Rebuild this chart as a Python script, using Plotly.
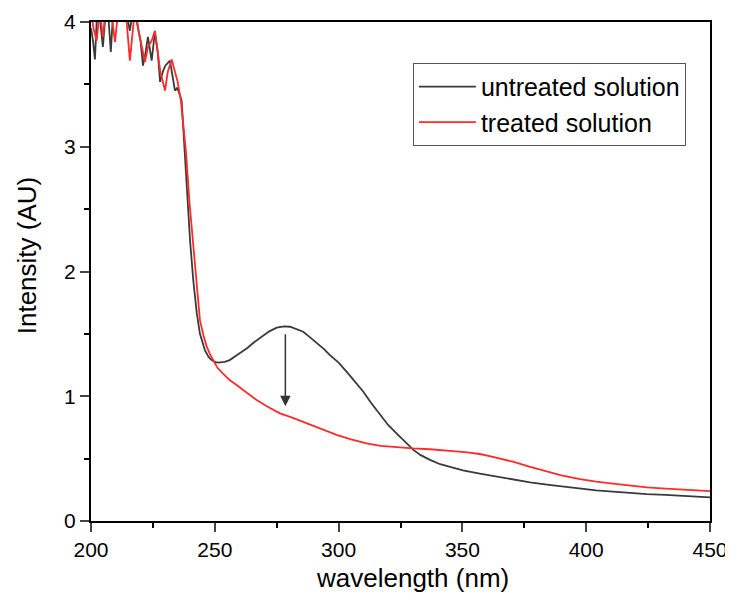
import plotly.graph_objects as go

# untreated solution (black)
untreated_x = [200, 200.8, 201.6, 202.5, 203.5, 204.8, 206, 207, 208, 209, 210, 212, 214, 215.7, 217,
               218, 219, 220, 221, 222, 223, 224.5, 225.8, 227, 227.9, 229, 230, 231.9, 233, 233.9,
               234.7, 235.5, 236.6, 237.8, 238.9, 240, 241.3, 242.7, 244, 246, 247.5, 248.7, 250,
               251.3, 254, 256, 259, 263, 266, 269.6, 272, 275, 278, 280.4, 283, 285.7, 288, 291.2,
               294, 296.5, 300, 303.3, 306, 310, 313, 316.7, 320, 323.5, 327, 330.2, 333, 336.9,
               341, 346, 350.2, 357, 364, 370, 377.3, 385, 392, 397.5, 404, 410.8, 417, 424.5, 432,
               440, 445, 450]
untreated_y = [3.95, 3.85, 3.70, 4.1, 4.05, 3.80, 4.1, 4.05, 3.76, 4.1, 4.1, 4.1, 4.1, 3.93, 4.1,
               4.1, 3.95, 3.85, 3.65, 3.75, 3.88, 3.69, 3.92, 3.75, 3.52, 3.6, 3.65, 3.69, 3.55, 3.45,
               3.47, 3.44, 3.37, 2.95, 2.57, 2.25, 1.93, 1.67, 1.50, 1.37, 1.315, 1.29, 1.275,
               1.27, 1.275, 1.29, 1.33, 1.385, 1.435, 1.49, 1.52, 1.55, 1.56, 1.557, 1.54, 1.517, 1.48, 1.43,
               1.38, 1.33, 1.27, 1.196, 1.13, 1.036, 0.95, 0.85, 0.77, 0.70, 0.63, 0.57, 0.53, 0.49,
               0.455, 0.425, 0.405, 0.38, 0.355, 0.33, 0.31, 0.29, 0.272, 0.258, 0.245, 0.235, 0.225, 0.216, 0.21,
               0.20, 0.195, 0.19]

# treated solution (red)
treated_x = [200, 201, 202.3, 203.5, 204.8, 206, 207, 208, 209.7, 211, 212, 214, 215.7, 217.7,
             219, 220, 221.8, 223, 224.5, 225.8, 227, 228, 229.9, 231, 232.6, 234, 235, 236.3,
             237.2, 238.4, 239.7, 241.3, 242.7, 244, 245.5, 246.7, 248, 249.4, 251, 253.4, 256,
             258.8, 262, 266.9, 271, 276.3, 281, 287.1, 293, 299.2, 305, 311.3, 317, 323.5, 330,
             336.9, 341, 346.2, 352, 357, 361, 364, 370.4, 377, 384, 390, 397.5,
             404, 410.8, 417, 424.5, 432, 440, 450]
treated_y = [4.1, 3.95, 3.85, 4.1, 3.88, 4.1, 4.1, 4.1, 3.84, 4.1, 4.1, 4.1, 3.69, 4.1,
             3.95, 3.85, 3.68, 3.80, 3.85, 3.93, 3.75, 3.6, 3.45, 3.6, 3.70, 3.6, 3.52, 3.37,
             3.21, 2.95, 2.57, 2.2, 1.85, 1.61, 1.48, 1.40, 1.34, 1.29, 1.23, 1.18, 1.13,
             1.09, 1.04, 0.97, 0.92, 0.863, 0.83, 0.783, 0.735, 0.69, 0.655, 0.623, 0.603, 0.59, 0.582,
             0.575, 0.57, 0.56, 0.55, 0.537, 0.52, 0.505, 0.475, 0.435, 0.395, 0.365, 0.336,
             0.315, 0.30, 0.285, 0.27, 0.26, 0.25, 0.24]

x_ticks = [200, 250, 300, 350, 400, 450]
y_ticks = [0, 1, 2, 3, 4]

x_title = "wavelength (nm)"
y_title = "Intensity (AU)"

arrow_x = 278.5
arrow_from_y = 1.51
arrow_to_y = 0.92

fig = go.Figure()
fig.add_trace(go.Scatter(x=untreated_x, y=untreated_y, mode="lines", name="untreated solution",
                         line=dict(color="#3a3a3a", width=1.8)))
fig.add_trace(go.Scatter(x=treated_x, y=treated_y, mode="lines", name="treated solution",
                         line=dict(color="#ff2a2a", width=1.8)))

fig.add_annotation(x=arrow_x, y=arrow_to_y, ax=arrow_x, ay=arrow_from_y,
                   xref="x", yref="y", axref="x", ayref="y",
                   showarrow=True, arrowhead=2, arrowsize=1.4, arrowwidth=1.5,
                   arrowcolor="#333333", text="")

font_family = "Liberation Sans, Arial, sans-serif"

# axis titles as annotations for exact placement
fig.add_annotation(text=x_title, xref="paper", yref="paper", x=0.519, y=-0.114,
                   xanchor="center", yanchor="middle", showarrow=False,
                   font=dict(size=26, family=font_family, color="black"))
fig.add_annotation(text=y_title, xref="paper", yref="paper", x=-0.103, y=0.533,
                   xanchor="center", yanchor="middle", showarrow=False, textangle=-90,
                   font=dict(size=26, family=font_family, color="black"))

# page body has an 8px margin, so the figure is sized to fit the 733x601 window
fig.update_layout(
    width=725, height=593,
    margin=dict(l=83, r=23, t=14, b=80, autoexpand=False),
    paper_bgcolor="white", plot_bgcolor="white",
    font=dict(family=font_family, color="black", size=21),
    legend=dict(x=0.52, y=0.918, xanchor="left", yanchor="top",
                bordercolor="#555555", borderwidth=1, bgcolor="white",
                font=dict(size=25, family=font_family), tracegroupgap=0,
                itemwidth=57),
    xaxis=dict(range=[200, 450], tickvals=x_ticks, ticks="outside", ticklen=9, tickwidth=1.5,
               showline=True, linecolor="black", linewidth=2, mirror=True, showgrid=False,
               zeroline=False, tickfont=dict(size=21), automargin=False,
               minor=dict(dtick=25, ticks="outside", ticklen=5, tickwidth=1.5, tickcolor="black")),
    yaxis=dict(range=[0, 4], tickvals=y_ticks, ticks="outside", ticklen=9, tickwidth=1.5,
               showline=True, linecolor="black", linewidth=2, mirror=True, showgrid=False,
               zeroline=False, tickfont=dict(size=21), automargin=False,
               minor=dict(dtick=0.5, ticks="outside", ticklen=5, tickwidth=1.5, tickcolor="black")),
    showlegend=True,
)

fig.write_html("out.html")
